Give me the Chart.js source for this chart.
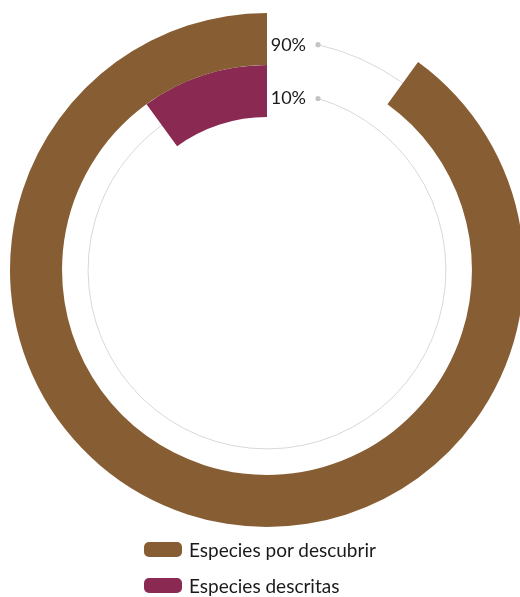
<!DOCTYPE html>
<html>
<head>
<meta charset="utf-8">
<script src="https://cdn.jsdelivr.net/npm/chart.js@4"></script>
<style>
  html, body { margin: 0; padding: 0; background: #fff; overflow: hidden; }
  body { width: 520px; height: 597px; position: relative; font-family: Lato, "Open Sans", sans-serif; }
  #wrap { position: absolute; left: 0; top: 0; width: 534px; height: 540px; }
  #legend { position: absolute; left: 144px; top: 539px; margin: 0; padding: 0; list-style: none; }
  #legend li { display: flex; align-items: center; height: 21px; margin-bottom: 15px; font-size: 19px; color: #1a1a1a; }
  #legend span.box { display: inline-block; width: 38px; height: 15px; border-radius: 5px; margin-right: 7px; }
</style>
</head>
<body>
<div id="wrap"><canvas id="chart" width="534" height="540"></canvas></div>
<ul id="legend"></ul>
<script>
// Series
const seriesNames = ['Especies por descubrir', 'Especies descritas'];
const seriesValues = [90, 10];            // percent of all species
const seriesColors = ['#875D33', '#8A2A52'];
const valueLabels = ['90%', '10%'];

const porDescubrir = seriesValues[0];
const descritas = seriesValues[1];

// Outer ring: the gap (descritas) comes first, then the brown arc runs on round to the top.
// Inner ring: the empty part first, then the purple arc closes at the top.
const ringData = [
  { data: [descritas, porDescubrir], colors: ['rgba(0,0,0,0)', seriesColors[0]] },
  { data: [porDescubrir, descritas], colors: ['rgba(0,0,0,0)', seriesColors[1]] }
];

// Thin track circles, a marker dot and the percentage at each ring's start
const trackPlugin = {
  id: 'tracks',
  beforeDatasetsDraw(chart) {
    const ctx = chart.ctx;
    chart.data.datasets.forEach((ds, i) => {
      const arc = chart.getDatasetMeta(i).data[0];
      if (!arc) return;
      const { x, y, innerRadius, outerRadius } = arc.getProps(['x', 'y', 'innerRadius', 'outerRadius'], true);
      const r = (innerRadius + outerRadius) / 2;
      const dx = 51;
      const start = -Math.PI / 2 + Math.asin(dx / r);
      ctx.save();
      ctx.beginPath();
      ctx.arc(x, y, r, start, -Math.PI / 2 + Math.PI * 2);
      ctx.strokeStyle = '#d8d8d8';
      ctx.lineWidth = 1;
      ctx.stroke();
      const px = x + r * Math.cos(start);
      const py = y + r * Math.sin(start);
      ctx.beginPath();
      ctx.arc(px, py, 2.6, 0, Math.PI * 2);
      ctx.fillStyle = '#c4c4c4';
      ctx.fill();
      ctx.font = '18px Lato, "Open Sans", sans-serif';
      ctx.fillStyle = '#1a1a1a';
      ctx.textAlign = 'right';
      ctx.textBaseline = 'middle';
      ctx.fillText(ds.valueLabel, x + 39, py);
      ctx.restore();
    });
  }
};

new Chart(document.getElementById('chart'), {
  type: 'doughnut',
  data: {
    labels: seriesNames,
    datasets: ringData.map((ring, i) => ({
      label: seriesNames[i],
      data: ring.data,
      backgroundColor: ring.colors,
      borderWidth: 0,
      hoverOffset: 0,
      valueLabel: valueLabels[i]
    }))
  },
  options: {
    responsive: false,
    animation: false,
    events: [],
    cutout: '59.5%',
    layout: { padding: { left: 10, right: 10, top: 13, bottom: 13 } },
    plugins: {
      legend: { display: false },
      tooltip: { enabled: false }
    }
  },
  plugins: [trackPlugin]
});

// Legend below the rings
const legend = document.getElementById('legend');
seriesNames.forEach((name, i) => {
  const li = document.createElement('li');
  const box = document.createElement('span');
  box.className = 'box';
  box.style.background = seriesColors[i];
  li.appendChild(box);
  li.appendChild(document.createTextNode(name));
  legend.appendChild(li);
});
</script>
</body>
</html>
